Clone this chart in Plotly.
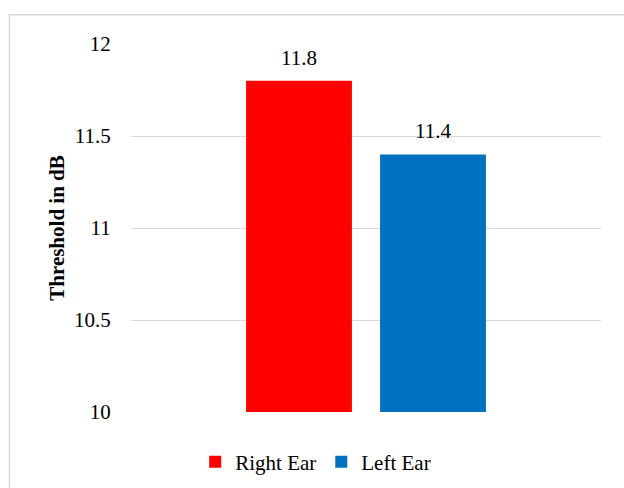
import plotly.graph_objects as go

# Hearing thresholds by ear
ears = ["Right Ear", "Left Ear"]
thresholds = [11.8, 11.4]
bar_colors = ["#FF0000", "#0070C0"]
y_ticks = [10, 10.5, 11, 11.5, 12]

FONT = "Liberation Serif"
TEXT_FONT = dict(family=FONT, size=21, color="#000000")

fig = go.Figure()
for ear, val, col in zip(ears, thresholds, bar_colors):
    fig.add_trace(go.Bar(
        x=[ear], y=[val], name=ear,
        marker=dict(color=col, line=dict(width=0)),
        width=0.79,
    ))
    fig.add_annotation(
        x=ear, y=val, xref="x", yref="y",
        text=f"{val}", showarrow=False,
        yanchor="bottom", yshift=9,
        font=TEXT_FONT,
    )

fig.update_layout(
    width=624, height=488,
    margin=dict(l=131, r=23, t=44, b=76, autoexpand=False),
    paper_bgcolor="white", plot_bgcolor="white",
    barmode="overlay",
    showlegend=True,
    legend=dict(
        orientation="h", x=0.393, xanchor="center",
        yref="container", y=0.053, yanchor="middle",
        font=TEXT_FONT,
        itemwidth=30,
    ),
    xaxis=dict(
        type="category", range=[-1.254, 2.254],
        showticklabels=False, showgrid=False, zeroline=False,
        showline=False, ticks="",
    ),
    yaxis=dict(
        range=[10, 12], tickvals=y_ticks,
        ticktext=[f"{v:g}" for v in y_ticks],
        showgrid=True, gridcolor="#D9D9D9", gridwidth=1,
        zeroline=False, showline=False,
        ticks="outside", ticklen=15, tickcolor="rgba(0,0,0,0)",
        tickfont=TEXT_FONT,
        title=dict(
            text="<b>Threshold in dB</b>", standoff=3,
            font=TEXT_FONT,
        ),
    ),
    shapes=[dict(
        type="rect", xref="paper", yref="paper",
        x0=-0.2585, x1=1.08, y0=-0.35, y1=1.0796,
        line=dict(color="#D9D9D9", width=1.5),
        fillcolor="rgba(0,0,0,0)", layer="below",
    )],
)

fig.write_html("out.html")
